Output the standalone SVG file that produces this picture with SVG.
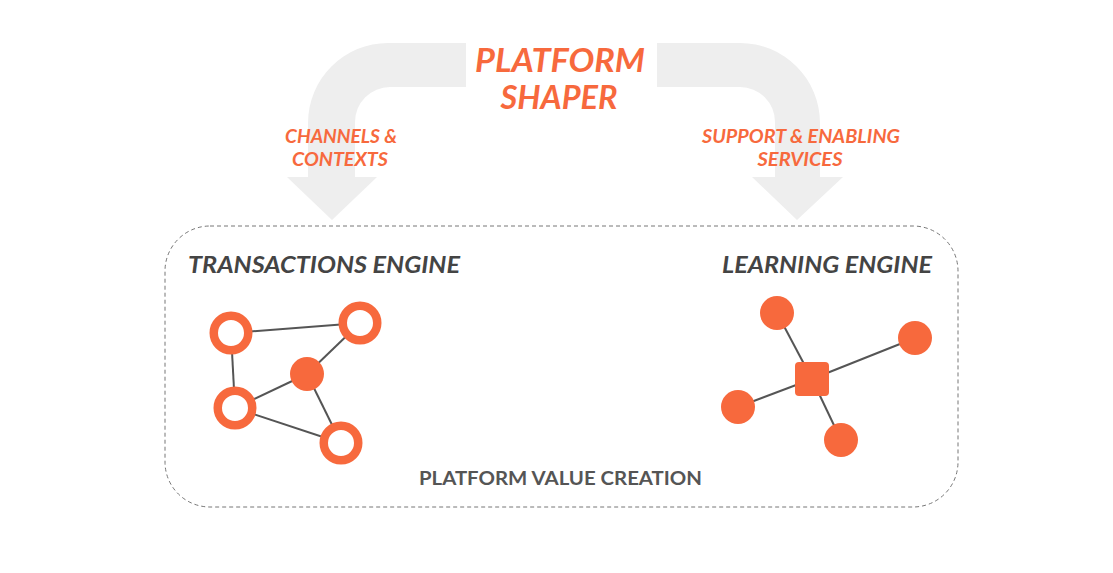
<svg xmlns="http://www.w3.org/2000/svg" width="1113" height="573" viewBox="0 0 1113 573">
<style>
.band{fill:#eeeeee}
.ot{font-family:Lato,"Open Sans","Liberation Sans",sans-serif;font-style:italic;font-weight:bold;fill:#f7693d;text-anchor:middle}
.gt{font-family:Lato,"Open Sans","Liberation Sans",sans-serif;font-style:italic;font-weight:bold;fill:#444444}
.edge{stroke:#555555;stroke-width:2;fill:none}
.ring{fill:#ffffff;stroke:#f7693d;stroke-width:8.5}
.dot{fill:#f7693d}
</style>
<rect width="1113" height="573" fill="#ffffff"/>
<g id="arrow-left">
<path class="band" d="M 466 43 L 388 43 A 80 80 0 0 0 308 123 L 308 177 L 287 177 L 332 220 L 377 177 L 355 177 L 355 122 A 35 35 0 0 1 390 87 L 466 87 Z"/>
</g>
<g id="arrow-right">
<path class="band" d="M 657 43 L 740 43 A 80 80 0 0 1 820 123 L 820 177 L 843 177 L 797 220 L 752 177 L 775 177 L 775 122 A 35 35 0 0 0 740 87 L 657 87 Z"/>
</g>
<g id="platform-shaper">
<text class="ot" x="560" y="72" font-size="33" textLength="170" lengthAdjust="spacingAndGlyphs">PLATFORM</text>
<text class="ot" x="559" y="109" font-size="33" textLength="117" lengthAdjust="spacingAndGlyphs">SHAPER</text>
</g>
<g id="label-channels">
<text class="ot" x="341" y="143" font-size="18.5" textLength="112" lengthAdjust="spacingAndGlyphs">CHANNELS &amp;</text>
<text class="ot" x="340" y="166" font-size="18.5" textLength="96" lengthAdjust="spacingAndGlyphs">CONTEXTS</text>
</g>
<g id="label-support">
<text class="ot" x="801" y="143" font-size="18.5" textLength="198" lengthAdjust="spacingAndGlyphs">SUPPORT &amp; ENABLING</text>
<text class="ot" x="800" y="166" font-size="18.5" textLength="85" lengthAdjust="spacingAndGlyphs">SERVICES</text>
</g>
<g id="value-creation">
<rect x="165" y="226" width="793" height="281" rx="45" ry="45" fill="none" stroke="#777777" stroke-width="1" stroke-dasharray="4 3"/>
<text x="560.5" y="485" font-family="Lato,'Open Sans','Liberation Sans',sans-serif" font-weight="bold" font-size="18.5" fill="#555555" text-anchor="middle" textLength="283" lengthAdjust="spacingAndGlyphs">PLATFORM VALUE CREATION</text>
</g>
<g id="transactions-engine">
<text class="gt" x="188" y="273" font-size="23" textLength="272" lengthAdjust="spacingAndGlyphs">TRANSACTIONS ENGINE</text>
</g>
<g id="learning-engine">
<text class="gt" x="722" y="273" font-size="23" textLength="210" lengthAdjust="spacingAndGlyphs">LEARNING ENGINE</text>
</g>
<g id="connectors">
<line class="edge" x1="231" y1="333" x2="360" y2="323"/>
<line class="edge" x1="231" y1="333" x2="235" y2="408"/>
<line class="edge" x1="235" y1="408" x2="307" y2="374"/>
<line class="edge" x1="307" y1="374" x2="360" y2="323"/>
<line class="edge" x1="235" y1="408" x2="341" y2="443"/>
<line class="edge" x1="307" y1="374" x2="341" y2="443"/>
<line class="edge" x1="777" y1="313" x2="812" y2="379"/>
<line class="edge" x1="915" y1="338" x2="812" y2="379"/>
<line class="edge" x1="738" y1="407" x2="812" y2="379"/>
<line class="edge" x1="841" y1="440" x2="812" y2="379"/>
</g>
<g id="t-node-a"><circle class="ring" cx="231" cy="333" r="17.25"/></g>
<g id="t-node-b"><circle class="ring" cx="360" cy="323" r="17.25"/></g>
<g id="t-node-c"><circle class="dot" cx="307" cy="374" r="17"/></g>
<g id="t-node-d"><circle class="ring" cx="235" cy="408" r="17.25"/></g>
<g id="t-node-e"><circle class="ring" cx="341" cy="443" r="17.25"/></g>
<g id="l-node-top"><circle class="dot" cx="777" cy="313" r="17"/></g>
<g id="l-node-right"><circle class="dot" cx="915" cy="338" r="17"/></g>
<g id="l-node-left"><circle class="dot" cx="738" cy="407" r="17"/></g>
<g id="l-node-bottom"><circle class="dot" cx="841" cy="440" r="17"/></g>
<g id="l-node-hub"><rect class="dot" x="795" y="362" width="34" height="34" rx="4" ry="4"/></g>
</svg>
